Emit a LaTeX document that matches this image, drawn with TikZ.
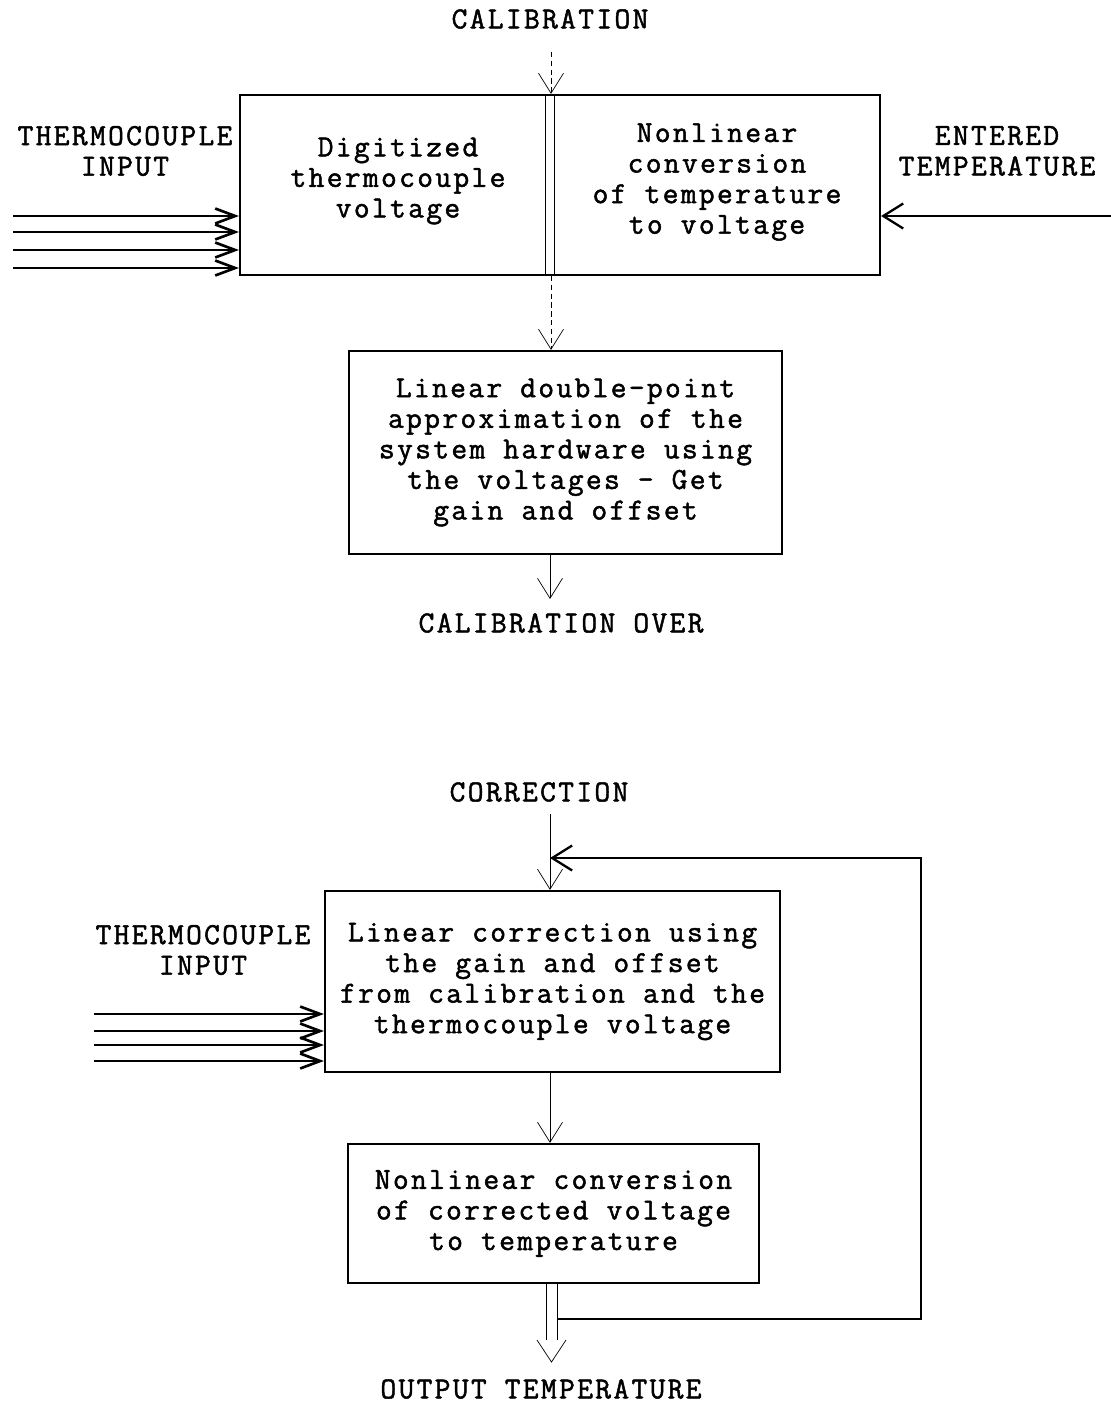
\documentclass[tikz,border=0pt]{standalone}
\usepackage{fontspec}
\newfontfamily\typefont{Latin Modern Mono}[FakeBold=1.6, LetterSpace=7.7]
\usetikzlibrary{arrows.meta,positioning}
\newcommand{\boxfont}{\typefont\fontsize{17.4pt}{17.4pt}\selectfont}

\begin{document}
\begin{tikzpicture}[x=0.02cm, y=-0.02cm, line width=1.3pt,
>={Straight Barb[length=0.4cm,width=0.5cm]},
box/.style={draw, rectangle, align=center, font=\boxfont, inner sep=0pt},
lbl/.style={align=center, font=\boxfont, inner sep=1pt},
tcarrow/.style={->, line width=1.5pt, >={Straight Barb[length=0.4cm,width=0.3cm]}},
calline/.style={->, thin, dash pattern=on 3pt off 2pt}]
\useasboundingbox (0,0) rectangle (1111,1406);

% calibration
\node[lbl] (calib) at (550,19) {CALIBRATION};
\node[box, minimum width=12.8cm, minimum height=3.6cm] (calbox) at (560,185) {};
\node[lbl] (digit) at (398,181) {Digitized\\thermocouple\\voltage};
\node[lbl] (nlconv) at (717,182) {Nonlinear\\conversion\\of temperature\\to voltage};
\node[lbl] (tcin) at (125,151) {THERMOCOUPLE\\INPUT};
\node[lbl] (entered) at (997,151) {ENTERED\\TEMPERATURE};
\node[box, minimum width=8.66cm, minimum height=4.06cm] (approxbox) at (565.5,452.5)
  {Linear double-point\\approximation of the\\system hardware using\\the voltages - Get\\gain and offset};
\node[lbl] (calover) at (561,623) {CALIBRATION OVER};

\coordinate (calin) at (551,52);
\draw[calline] (calin) -- (calin |- calbox.north);
\draw[thin] ([xshift=6.12cm]calbox.north west) -- ([xshift=6.12cm]calbox.south west);
\draw[thin] ([xshift=6.3cm]calbox.north west) -- ([xshift=6.3cm]calbox.south west);
\draw[calline] (calin |- calbox.south) -- (calin |- approxbox.north);
\foreach \y [count=\i] in {216,232,250,268} {
  \coordinate (tc\i) at (13,\y);
  \draw[tcarrow] (tc\i) -- (tc\i -| calbox.west);
}
\coordinate (entin) at (1111,216);
\draw[->] (entin) -- (entin -| calbox.east);
\coordinate (overtip) at (550,599);
\draw[->, thin] (overtip |- approxbox.south) -- (overtip);

% correction
\node[lbl] (corr) at (539,792) {CORRECTION};
\node[box, minimum width=9.1cm, minimum height=3.62cm] (corrbox) at (552.5,981.5)
  {Linear correction using\\the gain and offset\\from calibration and the\\thermocouple voltage};
\node[lbl] (tcin2) at (203,950) {THERMOCOUPLE\\INPUT};
\node[box, minimum width=8.22cm, minimum height=2.78cm] (convbox) at (553.5,1213.5)
  {Nonlinear conversion\\of corrected voltage\\to temperature};
\node[lbl] (outtemp) at (541,1389) {OUTPUT TEMPERATURE};

\coordinate (corrin) at (550,814);
\draw[->, thin] (corrin) -- (corrin |- corrbox.north);
\foreach \y [count=\i] in {1014,1031,1045,1061} {
  \coordinate (tcb\i) at (94,\y);
  \draw[tcarrow] (tcb\i) -- (tcb\i -| corrbox.west);
}
\draw[->, thin] (corrin |- corrbox.south) -- (corrin |- convbox.north);

\coordinate (outl) at (546,1283);
\coordinate (outr) at (557,1283);
\coordinate (outtip) at (551.5,1362);
\draw[thin] (outl) -- ++(0,57);
\draw[thin] (outr) -- ++(0,57);
\draw[thin] (outtip) ++(-14.5,-22) -- (outtip) -- ++(14.5,-22);
\coordinate (fbturn) at (921,858);
\draw[->] (outr) ++(0,36) -| (fbturn) -- (fbturn -| corrin);
\end{tikzpicture}
\end{document}
